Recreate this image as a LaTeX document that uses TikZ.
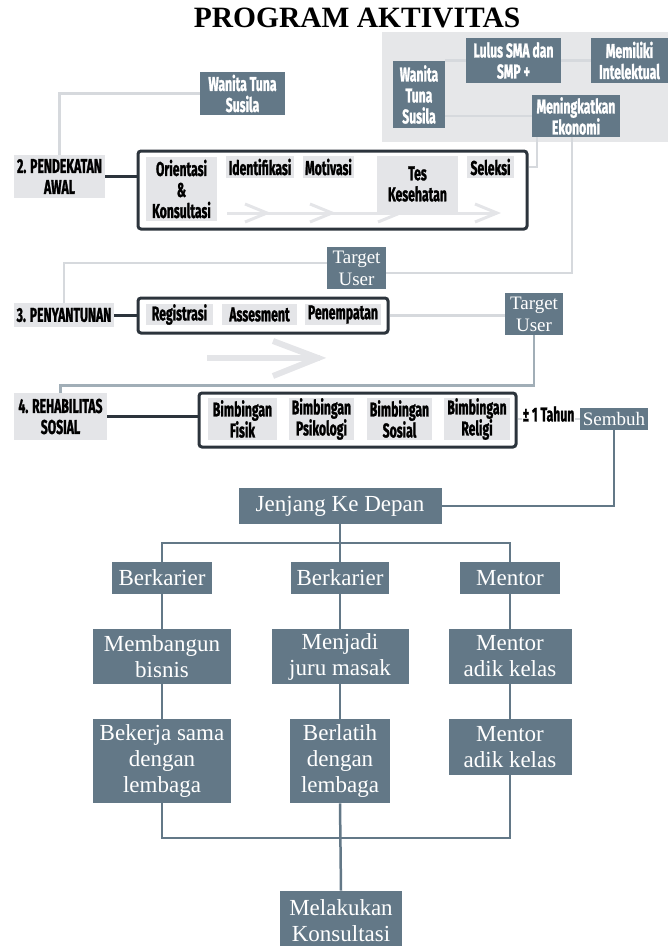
\documentclass[tikz,border=0pt]{standalone}
\usepackage{fontspec}
\setmainfont{Liberation Serif}
\newfontfamily\condfont[FakeStretch=0.61, BoldFeatures={FakeBold=1.2}]{Fira Sans}
\usepackage{tikz}

\definecolor{slate}{RGB}{99,120,135}
\definecolor{paleGray}{RGB}{228,229,232}
\definecolor{panelGray}{RGB}{230,231,233}
\definecolor{lineGray}{RGB}{214,217,221}
\definecolor{frameDark}{RGB}{44,52,60}

\newcommand{\condsize}{\condfont\bfseries\fontsize{20}{21}\selectfont}
\newcommand{\smallserif}{\rmfamily\fontsize{19}{22}\selectfont}
\newcommand{\bigserif}{\rmfamily\fontsize{23}{26}\selectfont}

\begin{document}
\begin{tikzpicture}[x=1pt, y=-1pt, thick,
		slate node/.style={fill=slate, text=white, font=\condsize, align=center, inner sep=0pt},
		gray node/.style={fill=paleGray, text=black, font=\condsize, align=center, inner sep=0pt},
		user node/.style={fill=slate, text=white, font=\smallserif, align=center, inner sep=0pt},
		tree node/.style={fill=slate, text=white, font=\bigserif, align=center, inner sep=0pt},
		stage frame/.style={draw=frameDark, line width=3pt, rounded corners=3pt, inner sep=0pt},
		light line/.style={draw=lineGray, line width=2.5pt},
		dark line/.style={draw=frameDark, line width=3pt},
		slate line/.style={draw=slate, line width=2.5pt},
		flow arrow/.style={draw=paleGray, line width=3pt}]
	\useasboundingbox (0,0) rectangle (668,946);
	
	\node[font=\rmfamily\bfseries\fontsize{29.5}{32}\selectfont] (title) at (357,18) {PROGRAM AKTIVITAS};
	
	% panel kanan atas
	\node[fill=panelGray, minimum width=286, minimum height=110, inner sep=0pt] (panel) at (525,87) {};
	\node[slate node, minimum width=52, minimum height=67] (pwts) at (419,94.5) {Wanita\\Tuna\\Susila};
	\node[slate node, minimum width=95, minimum height=45] (lulus) at (513.5,60.5) {Lulus SMA dan\\SMP +};
	\node[slate node, minimum width=77, minimum height=45] (intel) at (629.5,60.5) {Memiliki\\Intelektual};
	\node[slate node, minimum width=88, minimum height=42] (mening) at (576,116) {Meningkatkan\\Ekonomi};
	
	\node[slate node, minimum width=85, minimum height=43] (wts) at (242.5,93.5) {Wanita Tuna\\Susila};
	
	% tahap 2
	\node[gray node, minimum width=91, minimum height=43] (lbA) at (59.5,176.5) {2. PENDEKATAN\\AWAL};
	\node[stage frame, minimum width=389, minimum height=78] (frameA) at (332.5,190) {};
	\node[gray node, minimum width=71, minimum height=64] (orient) at (181.5,189) {Orientasi\\\&\\Konsultasi};
	\node[gray node, minimum width=68, minimum height=22] (ident) at (260,167) {Identifikasi};
	\node[gray node, minimum width=51, minimum height=22] (motiv) at (328.5,167) {Motivasi};
	\node[gray node, minimum width=81, minimum height=56] (tes) at (417.5,184) {Tes\\Kesehatan};
	\node[gray node, minimum width=47, minimum height=22] (seleksi) at (490.5,167) {Seleksi};
	
	\draw[flow arrow] (227,213) -- (497,213);
	\foreach \x in {267,332,400,497}
		\draw[flow arrow] (\x-22,204) -- (\x,213) -- (\x-22,222);
	
	% tahap 3
	\node[user node, minimum width=59, minimum height=42] (tuA) at (356.5,268) {Target\\User};
	\node[gray node, minimum width=100, minimum height=24] (lbB) at (64,315) {3. PENYANTUNAN};
	\node[stage frame, minimum width=250, minimum height=35] (frameB) at (263,315.5) {};
	\node[gray node, minimum width=67, minimum height=21] (regis) at (179.5,314.5) {Registrasi};
	\node[gray node, minimum width=75, minimum height=21] (asses) at (259.5,314.5) {Assesment};
	\node[gray node, minimum width=76, minimum height=21] (tempat) at (343,314.5) {Penempatan};
	\node[user node, minimum width=58, minimum height=42] (tuB) at (534,314) {Target\\User};
	
	\draw[flow arrow, line width=6pt] (207,358) -- (320,358);
	\draw[flow arrow, line width=6pt, line join=miter] (273,341) -- (318,358) -- (273,376);
	
	% tahap 4
	\node[gray node, minimum width=93, minimum height=47] (lbC) at (60.5,416.5) {4. REHABILITAS\\SOSIAL};
	\node[stage frame, minimum width=317, minimum height=54] (frameC) at (357.5,420) {};
	\node[gray node, minimum width=69, minimum height=42] (fisik) at (242.5,419) {Bimbingan\\Fisik};
	\node[gray node, minimum width=65, minimum height=42] (psiko) at (321.5,419) {Bimbingan\\Psikologi};
	\node[gray node, minimum width=65, minimum height=42] (sosial) at (399.5,419) {Bimbingan\\Sosial};
	\node[gray node, minimum width=66, minimum height=42] (religi) at (477,419) {Bimbingan\\Religi};
	\node[user node, minimum width=68, minimum height=22] (sembuh) at (614,419) {Sembuh};
	
	% jenjang ke depan
	\node[tree node, minimum width=203, minimum height=36] (jenjang) at (340,506) {Jenjang Ke Depan};
	\node[tree node, minimum width=100, minimum height=32] (karA) at (162,578) {Berkarier};
	\node[tree node, minimum width=98, minimum height=32] (karB) at (340,578) {Berkarier};
	\node[tree node, minimum width=100, minimum height=32] (mentor) at (510,578) {Mentor};
	\node[tree node, minimum width=138, minimum height=55] (bangun) at (162,656.5) {Membangun\\bisnis};
	\node[tree node, minimum width=137, minimum height=55] (masak) at (340,656.5) {Menjadi\\juru masak};
	\node[tree node, minimum width=123, minimum height=55] (mentA) at (510,656.5) {Mentor\\adik kelas};
	\node[tree node, minimum width=138, minimum height=84] (kerja) at (162,761) {Bekerja sama\\dengan\\lembaga};
	\node[tree node, minimum width=100, minimum height=84] (latih) at (340,761) {Berlatih\\dengan\\lembaga};
	\node[tree node, minimum width=123, minimum height=56] (mentB) at (510,747) {Mentor\\adik kelas};
	\node[tree node, minimum width=122, minimum height=60] (konsul) at (341,921) {Melakukan\\Konsultasi};
	
	\coordinate (split) at (340,543);
	\coordinate (join) at (340,838);
	
	% garis
	\draw[light line] (pwts.east |- lulus) -- (lulus.west);
	\draw[light line] (lulus.east) -- (intel.west);
	\draw[light line] (pwts.east |- mening) -- (mening.west);
	\draw[light line] (wts.west) -| (lbA.north);
	\draw[light line] ([xshift=-39pt]mening.south) |- (seleksi -| frameA.east);
	\draw[light line] ([xshift=-4pt]mening.south) |- ([yshift=-5pt]tuA.east);
	\draw[light line] ([yshift=5pt]tuA.west) -| (lbB.north);
	\draw[light line] (frameB.east) -- (frameB.east -| tuB.west);
	\draw[draw=slate!60, line width=2.5pt] (tuB.south) -- ++(0,50) -| (lbC.north);
	\draw[dark line] (lbA.east) -- (lbA.east -| frameA.west);
	\draw[dark line] (lbB.east) -- (lbB.east -| frameB.west);
	\draw[dark line, line width=2.5pt] (lbC.east) -- (lbC.east -| frameC.west);
	\draw[light line] (frameC.east |- sembuh) -- (sembuh.west);
	\node[fill=white, font=\condsize, inner sep=1pt] (tahun) at (548.5,414) {± 1 Tahun};
	\draw[slate line] (sembuh.south) |- (jenjang.east);
	
	\draw[slate line] (jenjang.south) -- (split);
	\draw[slate line] (karA.north) |- (split) -| (mentor.north);
	\draw[slate line] (split) -- (karB.north);
	\path[slate line]
	(karA) edge (bangun)
	(bangun) edge (kerja)
	(karB) edge (masak)
	(masak) edge (latih)
	(mentor) edge (mentA)
	(mentA) edge (mentB);
	\draw[slate line] (kerja.south) |- (join) -| (mentB.south);
	\draw[slate line] (latih.south) -- (konsul.north);
\end{tikzpicture}
\end{document}
